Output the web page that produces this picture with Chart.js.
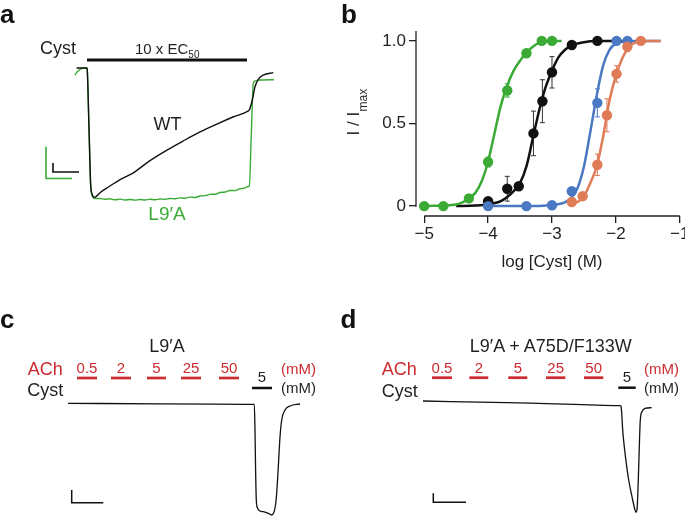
<!DOCTYPE html>
<html>
<head>
<meta charset="utf-8">
<script src="https://cdn.jsdelivr.net/npm/chart.js@4.4.1/dist/chart.umd.min.js"></script>
<style>
html, body { margin: 0; padding: 0; background: #fff; overflow: hidden; }
#fig { position: relative; width: 685px; height: 516px; font-family: "Liberation Sans", Arial, Helvetica, sans-serif; }
#fig canvas { position: absolute; }
.lbl { position: absolute; line-height: 1; white-space: nowrap; }
</style>
</head>
<body>
<div id="fig">
  <canvas id="panelA" width="290" height="234" style="left:7px;top:3px"></canvas>
  <canvas id="panelB" width="355" height="280" style="left:330px;top:0px"></canvas>
  <canvas id="panelC" width="340" height="223" style="left:0px;top:293px"></canvas>
  <canvas id="panelD" width="345" height="223" style="left:340px;top:293px"></canvas>
</div>
<script>
// ---------- panel a: currents during 10 x EC50 cysteamine (time s, current uA) ----------
const wtTime = [-5.2, 0, 0.15, 1.0, 1.85, 2.6, 3.65, 4.5, 6.5, 11.5, 16.5, 23, 31.5, 40, 48, 56.5, 65, 73, 80.5, 81.15, 82.65, 84, 85.65, 88.15, 93.15];
const wtCurrent = [0, 0, -0.15, -4.6, -9.0, -9.7, -9.95, -9.9, -9.6, -9.08, -8.58, -8.08, -7.12, -6.31, -5.62, -4.92, -4.31, -3.77, -3.31, -3.23, -2.46, -1.44, -0.87, -0.54, -0.36];

const mutTime = [-6, -4.75, -3.5, -1, 0, 0.15, 1.0, 1.85, 2.75, 4, 6.5, 9, 11.5, 14, 16.5, 19, 21.5, 24, 26.5, 29, 31.5, 34, 36.5, 39, 41.5, 44, 46.5, 49, 51.5, 54, 56.5, 59, 61.5, 64, 66.5, 69, 71.5, 74, 76.5, 79, 80.5, 81.15, 82.15, 83.15, 84, 86.5, 93.5];
const mutCurrent = [-0.54, -0.27, -0.1, 0, -0.02, -0.15, -4.7, -9.1, -9.9, -10.04, -10.04, -10.1, -10.06, -10.14, -10.09, -10.15, -10.11, -10.16, -10.12, -10.15, -10.1, -10.13, -10.08, -10.1, -10.04, -10.06, -9.99, -10.02, -9.93, -9.96, -9.85, -9.82, -9.72, -9.71, -9.58, -9.54, -9.42, -9.43, -9.29, -9.22, -9.12, -9.1, -5.15, -1.18, -1.0, -0.92, -0.9];

const cystPulseA = [0, 80];          // application bar (s)
const scaleBarA_mut = { t: [-20.5, -20.5, -7.5], i: [-6.05, -8.5, -8.5] };
const scaleBarA_wt = { t: [-17, -17, -4], i: [-7.3, -8.0, -8.0] };

// ---------- panel b: concentration-response ----------
const xTickValues = [-5, -4, -3, -2, -1];
const xTickLabels = ['\u22125', '\u22124', '\u22123', '\u22122', '\u22121'];
const yTickValues = [0, 0.5, 1];
const yTickLabels = ['0', '0.5', '1.0'];

const mutLogC = [-5, -4.7, -4.3, -4.0, -3.7, -3.4, -3.16, -3.0];
const mutResp = [0, 0, 0.047, 0.267, 0.70, 0.925, 1.0, 1.0];
const mutErr  = [0, 0, 0.01, 0.03, 0.04, 0.02, 0, 0];

const wtLogC = [-4.0, -3.7, -3.52, -3.29, -3.15, -3.0, -2.69, -2.29];
const wtResp = [0.03, 0.105, 0.12, 0.44, 0.635, 0.81, 0.975, 1.0];
const wtErr  = [0.01, 0.075, 0.02, 0.135, 0.13, 0.095, 0.02, 0];

const blueLogC = [-4.0, -3.4, -3.0, -2.69, -2.29, -1.99, -1.82];
const blueResp = [0, 0, 0.005, 0.09, 0.625, 1.0, 1.0];
const blueErr  = [0, 0, 0, 0.02, 0.085, 0.01, 0];

const orangeLogC = [-2.69, -2.52, -2.29, -2.14, -1.99, -1.82, -1.61];
const orangeResp = [0.025, 0.06, 0.25, 0.55, 0.80, 0.965, 1.0];
const orangeErr  = [0.01, 0.02, 0.065, 0.1, 0.05, 0.03, 0];

// fitted curves
const mutFitX = [-5, -4.5, -4.4, -4.3, -4.2, -4.1, -4.0, -3.9, -3.8, -3.7, -3.6, -3.5, -3.4, -3.3, -3.2, -3.0, -2.85];
const mutFitY = [0, 0.01, 0.022, 0.047, 0.08, 0.15, 0.27, 0.44, 0.61, 0.73, 0.82, 0.88, 0.93, 0.965, 0.988, 1.0, 1.0];
const wtFitX = [-4.5, -4.2, -4.0, -3.8, -3.7, -3.6, -3.5, -3.4, -3.3, -3.2, -3.1, -3.0, -2.9, -2.8, -2.7, -2.5, -2.3, -1.9];
const wtFitY = [0, 0.003, 0.01, 0.03, 0.055, 0.09, 0.14, 0.24, 0.41, 0.58, 0.72, 0.82, 0.90, 0.945, 0.972, 0.992, 0.999, 1.0];
const blueFitX = [-4.0, -3.2, -3.0, -2.8, -2.7, -2.6, -2.5, -2.4, -2.3, -2.2, -2.1, -2.0, -1.9, -1.7, -1.3];
const blueFitY = [0, 0.001, 0.006, 0.022, 0.05, 0.11, 0.24, 0.45, 0.67, 0.85, 0.945, 0.985, 0.997, 1.0, 1.0];
const orangeFitX = [-2.7, -2.6, -2.5, -2.4, -2.3, -2.2, -2.1, -2.0, -1.9, -1.8, -1.7, -1.5, -1.3];
const orangeFitY = [0.01, 0.025, 0.06, 0.14, 0.24, 0.42, 0.64, 0.79, 0.895, 0.96, 0.99, 1.0, 1.0];

// ---------- panels c, d: ACh then cysteamine ----------
const achConc = ['0.5', '2', '5', '25', '50'];
const cystConc = '5';

const cAchStart = [4.5, 21.5, 39.5, 56.5, 75.5];
const cAchEnd   = [14.5, 31.5, 49, 66.5, 85.5];
const cCyst = [92, 102];
const cTime = [0, 46, 93.15, 93.5, 93.8, 94.15, 94.75, 96, 97.65, 100.15, 101.85, 103, 103.75, 104.35, 105.15, 106, 106.85, 108.5, 111, 116];
const cCurrent = [-0.03, -0.08, -0.13, -2.7, -6.7, -9.7, -10.5, -10.8, -10.87, -11.03, -11.2, -10.9, -10.2, -9.0, -6.4, -3.4, -1.7, -0.7, -0.3, -0.1];
const cScaleBar = { t: [1.85, 1.85, 17.65], i: [-8.7, -9.97, -9.97] };

const dAchStart = [4.5, 23.15, 42.65, 61.5, 80.5];
const dAchEnd   = [14.5, 32.65, 52.15, 71.15, 90.15];
const dCyst = [97.65, 106.35];
const dTime = [0, 41.85, 98.5, 99, 99.35, 99.85, 100.65, 101.65, 102.85, 104.5, 106, 106.5, 107, 107.65, 108.15, 108.65, 109.5, 111, 114.35];
const dCurrent = [0, -0.17, -0.47, -0.5, -1.23, -2.9, -4.57, -6.23, -7.9, -9.57, -10.9, -11.13, -10.9, -7.9, -4.57, -1.9, -1.07, -0.73, -0.67];
const dScaleBar = { t: [5.15, 5.15, 21.5], i: [-9.23, -10.13, -10.13] };

// ---------- styling ----------
const FONT = '"Liberation Sans", Arial, Helvetica, sans-serif';
const TEXT = '#231f20';
const GREEN = '#3aaa35';
const BLUE = '#4a78c2';
const ORANGE = '#e07b57';
const RED = '#cc2b2f';

Chart.defaults.font.family = FONT;
Chart.defaults.color = TEXT;

const fig = document.getElementById('fig');

function addLabel(html, x, baseline, size, color, align, bold) {
    const el = document.createElement('div');
    el.className = 'lbl';
    el.innerHTML = html;
    el.style.fontSize = size + 'px';
    el.style.color = color;
    if (bold) el.style.fontWeight = 'bold';
    el.style.left = x + 'px';
    el.style.top = (baseline - 0.846 * size) + 'px';
    if (align === 'center') el.style.transform = 'translateX(-50%)';
    if (align === 'right') el.style.transform = 'translateX(-100%)';
    fig.appendChild(el);
}

function pts(xs, ys) {
    return xs.map((x, i) => ({ x: x, y: ys[i] }));
}

function trace(xs, ys, color, width, smooth) {
    return {
        data: pts(xs, ys),
        borderColor: color,
        borderWidth: width,
        pointRadius: 0,
        fill: false,
        tension: 0,
        cubicInterpolationMode: smooth ? 'monotone' : 'default',
        borderJoinStyle: 'miter'
    };
}

function bar(t0, t1, level, color, width) {
    return trace([t0, t1], [level, level], color, width, false);
}

function traceChart(id, xRange, yRange, datasets) {
    return new Chart(document.getElementById(id), {
        type: 'line',
        data: { datasets: datasets },
        options: {
            responsive: false,
            animation: false,
            events: [],
            layout: { padding: 0 },
            plugins: { legend: { display: false }, tooltip: { enabled: false } },
            scales: {
                x: { type: 'linear', display: false, min: xRange[0], max: xRange[1] },
                y: { type: 'linear', display: false, min: yRange[0], max: yRange[1] }
            }
        }
    });
}

// Panel a
traceChart('panelA', [-40, 105], [-13, 5], [
    trace(wtTime, wtCurrent, '#111', 1.4, true),
    trace(mutTime, mutCurrent, GREEN, 1.4, true),
    bar(cystPulseA[0], cystPulseA[1], 0.62, '#111', 3),
    trace(scaleBarA_mut.t, scaleBarA_mut.i, GREEN, 1.6, false),
    trace(scaleBarA_wt.t, scaleBarA_wt.i, '#111', 1.6, false)
]);

// Panel b
const doseAxes = {
    id: 'doseAxes',
    beforeDatasetsDraw(chart) {
        const { ctx, chartArea: area, scales: { x, y } } = chart;
        ctx.save();
        ctx.strokeStyle = TEXT;
        ctx.lineWidth = 1.3;
        ctx.beginPath();
        ctx.moveTo(x.getPixelForValue(xTickValues[0]), area.bottom);
        ctx.lineTo(x.getPixelForValue(xTickValues[xTickValues.length - 1]), area.bottom);
        ctx.moveTo(area.left, area.top);
        ctx.lineTo(area.left, y.getPixelForValue(0) + 0.6);
        ctx.stroke();

        // error bars (SEM)
        chart.data.datasets.forEach(ds => {
            if (!ds.errorBars) return;
            ctx.strokeStyle = ds.errorColor;
            ctx.lineWidth = 1;
            ds.data.forEach((p, i) => {
                const e = ds.errorBars[i];
                if (!e) return;
                const px = x.getPixelForValue(p.x);
                const top = y.getPixelForValue(p.y + e);
                const bot = y.getPixelForValue(p.y - e);
                ctx.beginPath();
                ctx.moveTo(px, top); ctx.lineTo(px, bot);
                ctx.moveTo(px - 2.5, top); ctx.lineTo(px + 2.5, top);
                ctx.moveTo(px - 2.5, bot); ctx.lineTo(px + 2.5, bot);
                ctx.stroke();
            });
        });
        ctx.restore();
    },
    afterDraw(chart) {
        const { ctx, chartArea: area, scales: { x, y } } = chart;
        ctx.save();
        ctx.fillStyle = TEXT;
        // x title
        ctx.font = '17px ' + FONT;
        ctx.textAlign = 'center';
        ctx.textBaseline = 'alphabetic';
        ctx.fillText('log [Cyst] (M)', x.getPixelForValue(-3), 266.5);
        // y title with subscript
        ctx.translate(area.left - 57, y.getPixelForValue(0.5) + 12);
        ctx.rotate(-Math.PI / 2);
        ctx.textAlign = 'left';
        ctx.font = '17px ' + FONT;
        ctx.fillText('I / I', 0, 0);
        const w = ctx.measureText('I / I').width;
        ctx.font = '12px ' + FONT;
        ctx.fillText('max', w + 0.5, 8);
        ctx.restore();
    }
};

function curve(xs, ys, color) {
    return {
        data: pts(xs, ys), borderColor: color, borderWidth: 2.5, pointRadius: 0,
        cubicInterpolationMode: 'monotone', fill: false, order: 2
    };
}
function dots(xs, ys, err, color, errColor) {
    return {
        data: pts(xs, ys), showLine: false, pointRadius: 5.2, pointBorderWidth: 0,
        pointBackgroundColor: color, pointBorderColor: color, borderColor: color,
        errorBars: err, errorColor: errColor, order: 1
    };
}

new Chart(document.getElementById('panelB'), {
    type: 'line',
    data: {
        datasets: [
            curve(mutFitX, mutFitY, GREEN),
            curve(wtFitX, wtFitY, '#111'),
            curve(orangeFitX, orangeFitY, ORANGE),
            curve(blueFitX, blueFitY, BLUE),
            dots(orangeLogC, orangeResp, orangeErr, ORANGE, ORANGE),
            dots(blueLogC, blueResp, blueErr, BLUE, BLUE),
            dots(wtLogC, wtResp, wtErr, '#111', '#333'),
            dots(mutLogC, mutResp, mutErr, GREEN, GREEN)
        ]
    },
    options: {
        responsive: false,
        animation: false,
        events: [],
        layout: { padding: { left: 0, right: 1.7, top: 31, bottom: 0 } },
        plugins: { legend: { display: false }, tooltip: { enabled: false } },
        scales: {
            x: {
                type: 'linear', min: -5.128, max: -1,
                afterFit(s) { s.height = 64; s.paddingLeft = 0; s.paddingRight = 0; },
                afterBuildTicks(s) { s.ticks = xTickValues.map(v => ({ value: v })); },
                ticks: { callback: (v, i) => xTickLabels[i], font: { size: 17 }, color: TEXT, padding: 1, maxRotation: 0, autoSkip: false },
                grid: { drawOnChartArea: false, drawTicks: true, tickLength: 7, color: TEXT, lineWidth: 1.3 },
                border: { display: false }
            },
            y: {
                type: 'linear', min: -0.06, max: 1.06,
                afterFit(s) { s.width = 86; s.paddingTop = 0; s.paddingBottom = 0; },
                afterBuildTicks(s) { s.ticks = yTickValues.map(v => ({ value: v })); },
                ticks: { callback: (v, i) => yTickLabels[i], font: { size: 17 }, color: TEXT, padding: 3, autoSkip: false },
                grid: { drawOnChartArea: false, drawTicks: true, tickLength: 7, color: TEXT, lineWidth: 1.3 },
                border: { display: false }
            }
        }
    },
    plugins: [doseAxes]
});

// Panels c and d
function achPanel(id, left, top, xRange, yRange, achStart, achEnd, cyst, t, cur, sb, achLevel, cystLevel) {
    const sets = [trace(t, cur, '#111', 1.3, true)];
    achStart.forEach((s, i) => sets.push(bar(s, achEnd[i], achLevel, RED, 2.7)));
    sets.push(bar(cyst[0], cyst[1], cystLevel, '#111', 2.5));
    sets.push(trace(sb.t, sb.i, '#111', 1.5, false));
    const ch = traceChart(id, xRange, yRange, sets);
    const sx = ch.scales.x;
    achConc.forEach((c, i) => {
        addLabel(c, left + sx.getPixelForValue((achStart[i] + achEnd[i]) / 2), 372.5, 15, RED, 'center');
    });
    addLabel(cystConc, left + sx.getPixelForValue((cyst[0] + cyst[1]) / 2), 382, 15, TEXT, 'center');
    return ch;
}

achPanel('panelC', 0, 293, [-34, 136], [-11.3, 11], cAchStart, cAchEnd, cCyst, cTime, cCurrent, cScaleBar, 2.5, 1.5);
achPanel('panelD', 340, 293, [-41.5, 131], [-11.5, 10.8], dAchStart, dAchEnd, dCyst, dTime, dCurrent, dScaleBar, 2.33, 1.33);

// ---------- text labels ----------
addLabel('a', 0, 22.7, 26, '#111', 'left', true);
addLabel('b', 341, 23.3, 26, '#111', 'left', true);
addLabel('c', 0, 328.3, 26, '#111', 'left', true);
addLabel('d', 340.5, 328.3, 26, '#111', 'left', true);

addLabel('Cyst', 40, 54.5, 18, TEXT, 'left');
addLabel('10 x EC<span style="font-size:10px;position:relative;top:4px">50</span>', 135, 54, 15, TEXT, 'left');
addLabel('WT', 167.5, 130, 18, TEXT, 'center');
addLabel('L9\u2032A', 167, 220, 19, GREEN, 'center');

addLabel('L9\u2032A', 167, 352, 18, TEXT, 'center');
addLabel('ACh', 27.7, 375, 18, RED, 'left');
addLabel('Cyst', 27.3, 396.7, 18, TEXT, 'left');
addLabel('(mM)', 281, 373.5, 15, RED, 'left');
addLabel('(mM)', 281, 392.5, 15, TEXT, 'left');

addLabel('L9\u2032A + A75D/F133W', 550.8, 352.7, 18, TEXT, 'center');
addLabel('ACh', 381.7, 375, 18, RED, 'left');
addLabel('Cyst', 381.7, 397, 18, TEXT, 'left');
addLabel('(mM)', 644, 373.5, 15, RED, 'left');
addLabel('(mM)', 644, 392.5, 15, TEXT, 'left');
</script>
</body>
</html>
